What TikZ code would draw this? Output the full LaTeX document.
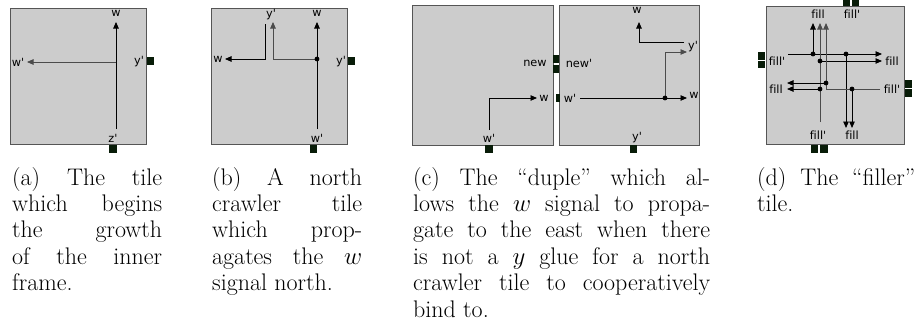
\documentclass[tikz,border=0pt]{standalone}
\usepackage{fontspec}
\newfontfamily\lab[Ligatures=NoCommon]{DejaVu Sans}
\usetikzlibrary{arrows.meta}
\definecolor{tilefill}{RGB}{204,204,204}
\definecolor{tileborder}{RGB}{85,85,85}
\definecolor{gluecol}{RGB}{8,28,8}
\definecolor{sgray}{RGB}{75,75,75}
\tikzset{
  tile/.style={draw=tileborder, fill=tilefill, line width=1pt},
  glue/.style={fill=gluecol},
  sig/.style={line width=0.9pt, draw=black, -{Triangle[length=6.5pt,width=5.5pt]}},
  sigg/.style={line width=0.9pt, draw=sgray, -{Triangle[length=6.5pt,width=5.5pt]}},
  lbl/.style={font=\lab\fontsize{11.3}{13}\selectfont, inner sep=0pt},
  dotc/.style={fill=black},
  capt/.style={anchor=north west, inner sep=0pt, align=justify,
    font=\fontsize{24}{26.4}\selectfont}
}
\begin{document}
\begin{tikzpicture}[x=1pt,y=-1pt]
\useasboundingbox (0,0) rectangle (917,335);
% ---------- (a)
\draw[tile] (10,8) rectangle (146,144);
\fill[glue] (147,57) rectangle (154,65);
\fill[glue] (109,145) rectangle (117,153);
\node[lbl] (a-w) at (116,13) {w};
\node[lbl] (a-wp) at (18,62) {w'};
\node[lbl] (a-yp) at (139,62) {y'};
\node[lbl] (a-zp) at (113,138) {z'};
\draw[sig] (116,129) -- (116,22);
\draw[sigg] (116,62) -- (27,62);
% ---------- (b)
\draw[tile] (211,8) rectangle (347,144);
\fill[glue] (348,57) rectangle (355,65);
\fill[glue] (310,145) rectangle (317,153);
\node[lbl] (b-yp1) at (271,15) {y'};
\node[lbl] (b-w1) at (317,13) {w};
\node[lbl] (b-w2) at (218,59) {w};
\node[lbl] (b-yp2) at (341,62) {y'};
\node[lbl] (b-wp) at (317,138) {w'};
\draw[sig] (317,129) -- (317,22);
\draw[sigg] (317,59) -- (273,59) -- (273,22);
\draw[sig] (265,24) -- (265,59) -- (225,59);
\fill[dotc] (317,59) circle (2.4);
% ---------- (c)
\draw[tile] (412,5) rectangle (553,145);
\draw[tile] (559,5) rectangle (699,145);
\fill[glue] (553,55) rectangle (559,63);
\fill[glue] (553,65) rectangle (559,73);
\fill[glue] (556,94) rectangle (560,102);
\fill[glue] (485,145) rectangle (493,153);
\fill[glue] (630,145) rectangle (637,153);
\node[lbl] (c-new) at (535,63) {new};
\node[lbl] (c-w1) at (544,98) {w};
\node[lbl] (c-wp1) at (489,138) {w'};
\node[lbl] (c-newp) at (579,63) {new'};
\node[lbl] (c-wp2) at (570,98) {w'};
\node[lbl] (c-w2) at (637,10) {w};
\node[lbl] (c-yp1) at (693,47) {y'};
\node[lbl] (c-w3) at (694,95) {w};
\node[lbl] (c-yp2) at (637,138) {y'};
\draw[sig] (489,130) -- (489,98) -- (537,98);
\draw[sig] (580,98) -- (687,98);
\draw[sigg] (665,98) -- (665,52) -- (687,52);
\draw[sig] (684,42) -- (639,42) -- (639,22);
\fill[dotc] (665,98) circle (2.4);
% ---------- (d)
\draw[tile] (766,6) rectangle (904,144);
\fill[glue] (843,-2) rectangle (850,6);
\fill[glue] (852,-2) rectangle (859,6);
\fill[glue] (758,52) rectangle (765,60);
\fill[glue] (758,61) rectangle (765,68);
\fill[glue] (905,80) rectangle (912,88);
\fill[glue] (905,89) rectangle (912,97);
\fill[glue] (811,145) rectangle (818,153);
\fill[glue] (820,145) rectangle (828,153);
\node[lbl] (d-t1) at (818,14) {fill};
\node[lbl] (d-t2) at (852,14) {fill'};
\node[lbl] (d-l1) at (777,61) {fill'};
\node[lbl] (d-r1) at (892,61) {fill};
\node[lbl] (d-l2) at (776,89) {fill};
\node[lbl] (d-r2) at (892,89) {fill'};
\node[lbl] (d-b1) at (818,135) {fill'};
\node[lbl] (d-b2) at (852,135) {fill};
\draw[sig] (788,54) -- (882,54);
\draw[sig] (813,54) -- (813,23);
\draw[sig] (846,54) -- (846,128);
\draw[sigg] (820,122) -- (820,23);
\draw[sig] (820,61) -- (882,61);
\draw[sig] (820,89) -- (787,89);
\draw[sigg] (880,89) -- (826,89) -- (826,23);
\draw[sig] (852,89) -- (852,128);
\draw[sig] (826,83) -- (787,83);
\foreach \p in {(813,54),(846,54),(820,61),(820,89),(852,89),(826,83)}
  \fill[dotc] \p circle (2.4);
% ---------- captions
\node[capt, text width=150pt] (cap-a) at (12,167)
  {(a) The tile\linebreak which begins\linebreak the growth\linebreak of the inner\linebreak frame.};
\node[capt, text width=150pt] (cap-b) at (212,167)
  {(b) A north\linebreak crawler tile\linebreak which prop-\linebreak agates the $w$\linebreak signal north.};
\node[capt, text width=297pt] (cap-c) at (413,167)
  {(c) The “duple” which al-\linebreak lows the $w$ signal to propa-\linebreak gate to the east when there\linebreak is not a $y$ glue for a north\linebreak crawler tile to cooperatively\linebreak bind to.};
\node[capt, text width=158pt] (cap-d) at (757,167)
  {(d) The “filler”\linebreak tile.};
\end{tikzpicture}
\end{document}
